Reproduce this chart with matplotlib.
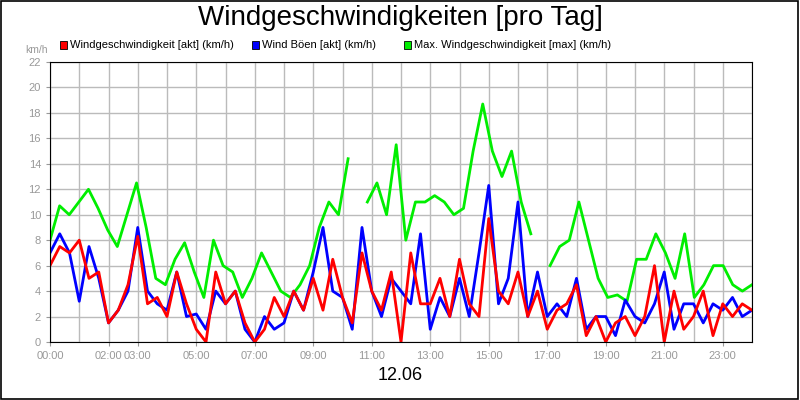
import numpy as np
import matplotlib
matplotlib.use("Agg")
import matplotlib.pyplot as plt
from matplotlib.patches import Rectangle

plt.rcParams["font.family"] = "Liberation Sans"
nan = np.nan
speed = [6,7.5,7,8,5,5.5,1.5,2.5,4.5,8.3,3,3.5,2,5.5,3,1,0,5.5,3,4,1.5,0,1,3.5,2,4,2.5,
         5,2.5,6.5,3.5,1.5,7,4,2.5,5.5,0,7,3,3,5,2,6.5,3,2,9.7,4,3,5.5,2,4,1,2.5,3,4.5,
         0.5,2,0,1.5,2,0.5,2,6,0,4,1,2,4,0.5,3,2,3,2.5]
gusts = [7,8.5,7,3.2,7.5,5,1.5,2.5,4,9,4,3,2.5,5.5,2,2.2,1,4,3,4,1,0,2,1,1.5,4,2.5,
         5.5,9,4,3.5,1,9,4,2,5,4,3,8.5,1,3.5,2,5,2,7,12.3,3,5,11,2,5.5,2,3,2,5,1,2,2,
         0.5,3.3,2,1.5,3,5.5,1,3,3,1.5,3,2.5,3.5,2,2.5]
maxspeed = [8,10.7,10,11,12,10.5,8.8,7.5,10,12.5,9,5,4.5,6.5,7.8,5.5,3.5,8,6,5.5,3.5,5,7,5.5,4,3.5,4.5,
            6,9,11,10,14.4,nan,11,12.5,10,15.5,8,11,11,11.5,11,10,10.5,15,18.7,15,13,15,11,8.5,nan,
            6,7.5,8,11,8,5,3.5,3.7,3.2,6.5,6.5,8.5,7,5,8.5,3.5,4.5,6,6,4.5,4,4.5]
xticks = [0,2,3,5,7,9,11,13,15,17,19,21,23]
xlabels = ["%02d:00" % h for h in xticks]
names = ["Windgeschwindigkeit [akt] (km/h)", "Wind Böen [akt] (km/h)", "Max. Windgeschwindigkeit [max] (km/h)"]
colors = ["#ff0000", "#0000ff", "#00ee00"]

fig = plt.figure(figsize=(8, 4), dpi=100)
fig.patches.append(Rectangle((0.001, 0.002), 0.997, 0.996, transform=fig.transFigure,
                             fill=False, edgecolor="black", lw=1.2))
ax = fig.add_axes([0.0625, 0.145, 0.8775, 0.70])
for data, c in [(maxspeed, colors[2]), (gusts, colors[1]), (speed, colors[0])]:
    t = np.linspace(0, 24, len(data))
    ax.plot(t, data, color=c, lw=2)
ax.set_xlim(0, 24)
ax.set_ylim(0, 22)
ax.set_yticks(range(0, 23, 2))
ax.set_xticks(xticks, labels=xlabels)
ax.set_xticks(range(0, 25), minor=True)
ax.grid(True, which="both", color="#bbbbbb", lw=1)
ax.set_axisbelow(True)
ax.tick_params(labelsize=8, colors="#999999", length=3)
ax.tick_params(which="minor", length=0)
for s in ax.spines.values():
    s.set_color("black")
fig.text(0.5, 0.955, "Windgeschwindigkeiten [pro Tag]", ha="center", va="center", fontsize=20)
fig.text(0.5, 0.06, "12.06", ha="center", va="center", fontsize=13)
fig.text(0.045, 0.875, "km/h", ha="center", va="center", fontsize=7.5, color="#999999")
xs = [0.075, 0.315, 0.505]
for x, n, c in zip(xs, names, colors):
    fig.patches.append(Rectangle((x, 0.878), 0.009, 0.02, transform=fig.transFigure,
                                 facecolor=c, edgecolor="black", lw=0.6))
    fig.text(x + 0.013, 0.888, n, fontsize=8, va="center")
fig.savefig("out.png")
